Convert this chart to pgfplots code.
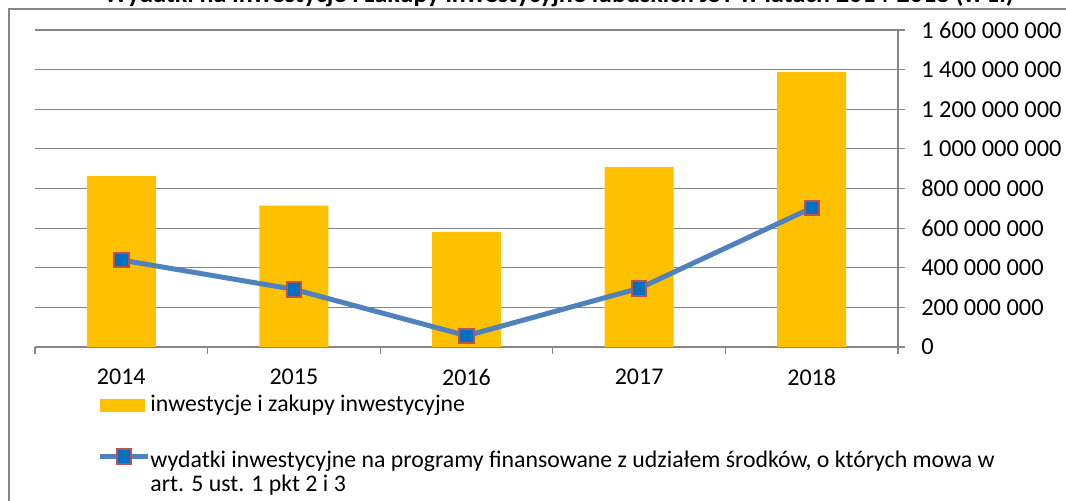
\documentclass[border=0pt]{standalone}
\usepackage{pgfplots}
\pgfplotsset{compat=1.18}
\usepackage{fontspec}
\setmainfont{Carlito}
\definecolor{baror}{HTML}{FFC000}
\definecolor{lineblue}{HTML}{4F81BD}
\definecolor{mkblue}{HTML}{0070C0}
\definecolor{mkred}{HTML}{C0504D}
\definecolor{axgray}{HTML}{868686}
\begin{document}
\begin{tikzpicture}
\useasboundingbox (0,0) rectangle (533pt,-250.5pt);
\clip (0,0) rectangle (533pt,-250.5pt);
\draw[axgray, line width=0.8pt] (4.5pt,-4.5pt) rectangle (600pt,-300pt);
\node[font=\fontsize{13}{15}\selectfont\bfseries, anchor=base, inner sep=0pt] at (279.5pt,-1.5pt) {Wydatki na inwestycje i zakupy inwestycyjne lubuskich JST w latach 2014-2018 (w zł)};
\begin{axis}[
  at={(17.5pt,-173.5pt)}, anchor=south west,
  scale only axis, width=431.5pt, height=158.5pt,
  xmin=-0.5, xmax=4.5, ymin=0, ymax=1.6e9,
  axis x line=bottom, axis y line=right,
  x axis line style={-, draw=axgray, line width=0.6pt},
  y axis line style={-, draw=axgray, line width=0.6pt},
  xtick={-0.5,0.5,1.5,2.5,3.5,4.5},
  x tick label as interval,
  xticklabels={2014,2015,2016,2017,2018},
  ytick={0,200000000,400000000,600000000,800000000,1000000000,1200000000,1400000000,1600000000},
  yticklabels={0,200 000 000,400 000 000,600 000 000,800 000 000,1 000 000 000,1 200 000 000,1 400 000 000,1 600 000 000},
  scaled y ticks=false,
  ymajorgrids,
  grid style={axgray, line width=0.6pt},
  tick style={axgray, line width=0.6pt},
  major tick length=3.5pt,
  tick align=outside,
  yticklabel style={font=\fontsize{12.2}{14}\selectfont, xshift=4.6pt},
  xticklabel style={font=\fontsize{12}{14}\selectfont, yshift=-4pt},
  legend cell align=left,
  legend style={draw=none, fill=none, at={(0.065,-0.129)}, anchor=north west,
    row sep=15pt, column sep=0pt, font=\fontsize{11.9}{12}\selectfont,
    nodes={align=left, inner xsep=0pt, inner ysep=1.5pt}},
]
\addplot[ybar, bar width=34.5pt, fill=baror, draw=none,
  legend image code/.code={\fill[baror] (0pt,-3.25pt) rectangle (22.5pt,3.25pt);}]
  coordinates {(0,863000000) (1,713000000) (2,581000000) (3,908000000) (4,1389000000)};
\addlegendentry{inwestycje i zakupy inwestycyjne}
\addplot[lineblue, line width=2.5pt, mark=square*,
  mark options={fill=mkblue, draw=mkred, line width=1pt}, mark size=3.6pt,
  legend image code/.code={\path[draw=none, fill=none] (0pt,-12pt) rectangle (24pt,12pt);
    \draw[lineblue, line width=2.5pt] (0pt,8pt) -- (24pt,8pt);
    \draw[fill=mkblue, draw=mkred, line width=1pt] (8.4pt,4.4pt) rectangle (15.6pt,11.6pt);}]
  coordinates {(0,439000000) (1,291000000) (2,57000000) (3,296000000) (4,702000000)};
\addlegendentry{wydatki inwestycyjne na programy finansowane z udziałem środków, o których mowa w\\art. 5 ust. 1 pkt 2 i 3}
\end{axis}
\end{tikzpicture}
\end{document}
